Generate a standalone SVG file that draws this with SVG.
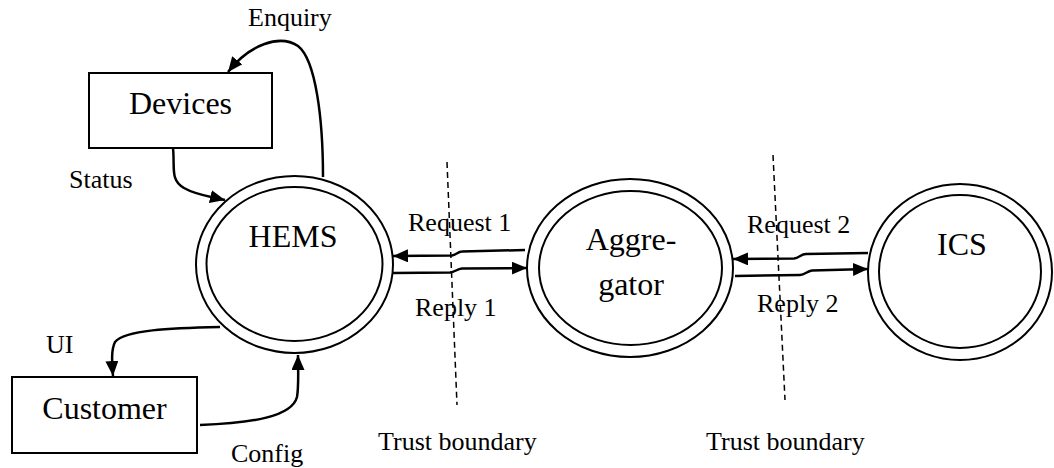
<svg xmlns="http://www.w3.org/2000/svg" width="1054" height="468" viewBox="0 0 1054 468">
  <style>
    .shape { fill: none; stroke: #000; stroke-width: 2; }
    .box { fill: #fff; stroke: #000; stroke-width: 2; }
    .flow { fill: none; stroke: #000; stroke-width: 2.5; marker-end: url(#arrow); }
    .boundary { fill: none; stroke: #000; stroke-width: 1.5; stroke-dasharray: 6 4; }
    text { fill: #000; }
    .name { font-size: 32px; text-anchor: middle; }
    .label { font-size: 26px; }
  </style>
  <defs>
    <marker id="arrow" markerUnits="userSpaceOnUse" markerWidth="16" markerHeight="14" refX="15" refY="6.5" orient="auto">
      <path d="M0,0 L15,6.5 L0,13 Z" fill="#000"/>
    </marker>
  </defs>
  <rect width="1054" height="468" fill="#fff"/>

  <g font-family="'Liberation Serif', 'Times New Roman', Times, serif">
  <!-- trust boundaries -->
  <g id="boundaries">
    <line class="boundary" x1="447" y1="162" x2="457" y2="405"/>
    <line class="boundary" x1="773" y1="155" x2="785" y2="400"/>
    <text class="label" x="378" y="450">Trust boundary</text>
    <text class="label" x="706" y="450">Trust boundary</text>
  </g>

  <!-- data flows -->
  <g id="connectors">
    <path class="flow" d="M323,177 C323,120 316,60 298,46 C280,34 250,44 228,72"/>
    <text class="label" x="248" y="26">Enquiry</text>

    <path class="flow" d="M173,148 C175,168 170,180 184,188 C196,195 208,196 225,200"/>
    <text class="label" x="69" y="188">Status</text>

    <path class="flow" d="M220,327 C170,328 125,330 115,342 C111,350 112,362 113,376"/>
    <text class="label" x="46" y="353">UI</text>

    <path class="flow" d="M200,425 C255,423 292,416 297,397 C299,385 298,368 298,355"/>
    <text class="label" x="231" y="462">Config</text>

    <path class="flow" d="M525,250 L462,251.5 C458,251.5 456,255 452,255.5 L393,256"/>
    <path class="flow" d="M393,273 L450,272.5 C455,272 457,269 462,268.5 L527,268"/>
    <text class="label" x="408" y="231">Request 1</text>
    <text class="label" x="415" y="316">Reply 1</text>

    <path class="flow" d="M868,253 L806,254 C801,254 799,258 794,258.5 L733,259"/>
    <path class="flow" d="M735,276 L800,275 C805,275 807,271 812,270.5 L868,269"/>
    <text class="label" x="747" y="233">Request 2</text>
    <text class="label" x="757" y="312">Reply 2</text>
  </g>

  <!-- external entities -->
  <g id="devices">
    <rect class="box" x="89" y="73" width="183" height="75"/>
    <text class="name" x="180.5" y="114">Devices</text>
  </g>
  <g id="customer">
    <rect class="box" x="12" y="377" width="185" height="76"/>
    <text class="name" x="104.5" y="419">Customer</text>
  </g>

  <!-- processes -->
  <g id="hems">
    <ellipse class="shape" cx="294.5" cy="264.5" rx="98.5" ry="88.5"/>
    <ellipse class="shape" cx="294.5" cy="264" rx="88" ry="77"/>
    <text class="name" x="293" y="247">HEMS</text>
  </g>
  <g id="aggregator">
    <ellipse class="shape" cx="630" cy="268" rx="103" ry="89"/>
    <ellipse class="shape" cx="630.5" cy="268" rx="91.5" ry="77"/>
    <text class="name" x="631" y="250">Aggre-</text>
    <text class="name" x="631" y="295">gator</text>
  </g>
  <g id="ics">
    <ellipse class="shape" cx="960" cy="272" rx="92" ry="88"/>
    <ellipse class="shape" cx="960" cy="271.5" rx="81" ry="76.5"/>
    <text class="name" x="962" y="255">ICS</text>
  </g>
  </g>
</svg>
